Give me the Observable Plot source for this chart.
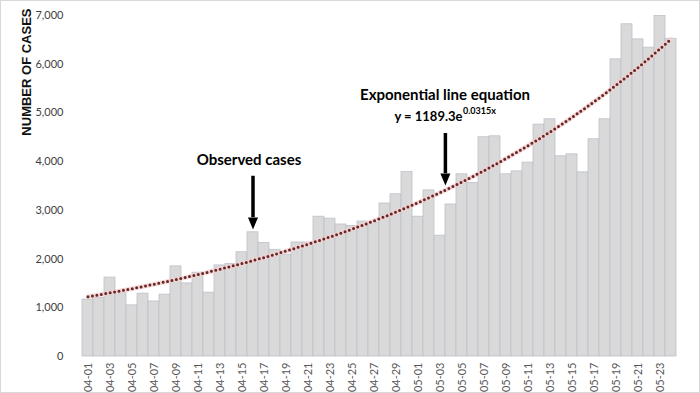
<!DOCTYPE html>
<html><head><meta charset="utf-8">
<script src="https://cdn.jsdelivr.net/npm/d3@7"></script>
<script src="https://cdn.jsdelivr.net/npm/@observablehq/plot@0.6"></script>
<style>
html,body{margin:0;padding:0;background:#fff;overflow:hidden;}
#chart svg{outline:1px solid #d9d9d9;outline-offset:-1px;}
</style></head><body><div id="chart"></div>
<script>
const dates = [
  "04-01","04-02","04-03","04-04","04-05","04-06","04-07","04-08","04-09","04-10",
  "04-11","04-12","04-13","04-14","04-15","04-16","04-17","04-18","04-19","04-20",
  "04-21","04-22","04-23","04-24","04-25","04-26","04-27","04-28","04-29","04-30",
  "05-01","05-02","05-03","05-04","05-05","05-06","05-07","05-08","05-09","05-10",
  "05-11","05-12","05-13","05-14","05-15","05-16","05-17","05-18","05-19","05-20",
  "05-21","05-22","05-23","05-24"
];
const cases = [
  1170,1200,1620,1320,1050,1290,1130,1270,1850,1500,
  1720,1310,1870,1900,2140,2550,2330,2190,2090,2340,
  2340,2870,2830,2710,2680,2770,2740,3140,3330,3790,
  2870,3410,2480,3120,3740,3560,4500,4520,3740,3800,
  3980,4760,4870,4110,4150,3780,4460,4870,6100,6820,
  6510,6340,6990,6520
];
const xTickLabels = dates.filter((d, i) => i % 2 === 0);
const yTicks = [0,1000,2000,3000,4000,5000,6000,7000];
// Trend equation shown on the chart: y = 1189.3 e^(0.0315 x), x = day number
const trendA = 1189.3, trendB = 0.0315;
const yTitle = "NUMBER OF CASES";
const observedLabel = "Observed cases";
const trendTitle = "Exponential line equation";
const trendEqMain = "y = 1189.3e";
const trendEqExp = "0.0315x";

const rows = dates.map((d, i) => ({date: d, cases: cases[i], trend: trendA * Math.exp(trendB * (i + 1))}));

const arrowHead = {
  draw(ctx) { ctx.moveTo(-5, -12); ctx.lineTo(5, -12); ctx.lineTo(0, 0); ctx.closePath(); }
};

const chart = Plot.plot({
  width: 700,
  height: 393,
  marginLeft: 75,
  marginRight: 18,
  marginTop: 15,
  marginBottom: 37,
  style: {fontFamily: "Lato, sans-serif", background: "#fff"},
  x: {type: "band", domain: dates, padding: 0},
  y: {domain: [0, 7000]},
  marks: [
    Plot.barY(rows, {x: "date", y: "cases", fill: "#d9d9d9", stroke: "#bcc1cb", strokeWidth: 0.8}),
    Plot.line(rows, {x: "date", y: "trend", stroke: "#f4d0d0", strokeWidth: 4.5, strokeOpacity: 0.8}),
    Plot.line(rows, {x: "date", y: "trend", stroke: "#652727", strokeWidth: 3, strokeDasharray: "0,4.5", strokeLinecap: "round"}),
    Plot.axisY({ticks: yTicks, tickFormat: d3.format(","), tickSize: 0, tickPadding: 12, fontSize: 11, color: "#404040", label: null}),
    Plot.axisX({ticks: xTickLabels, tickSize: 0, tickPadding: 6, tickRotate: -90, fontSize: 11, color: "#595959", label: null}),
    Plot.text([yTitle], {frameAnchor: "top-left", dx: -54, dy: -7, rotate: -90, textAnchor: "end", fontSize: 13, fontWeight: "bold", fontFamily: "Liberation Sans, Arial, sans-serif", fill: "#111"}),
    // Observed cases annotation
    Plot.ruleX(["04-16"], {x: d => d, y1: 3700, y2: 2850, stroke: "#000", strokeWidth: 3.5}),
    Plot.dot(["04-16"], {x: d => d, y: 2607, symbol: arrowHead, fill: "#000", stroke: null}),
    Plot.text([observedLabel], {x: () => "04-16", y: 4030, dx: -4, fontSize: 15, fontWeight: "bold", fill: "#000"}),
    // Trend annotation
    Plot.ruleX(["05-04"], {x: d => d, y1: 4578, y2: 3750, dx: -5.6, stroke: "#000", strokeWidth: 3.5}),
    Plot.dot(["05-04"], {x: d => d, y: 3511, dx: -5.6, symbol: arrowHead, fill: "#000", stroke: null}),
    Plot.text([trendTitle], {x: () => "05-04", y: 5358, dx: -6, fontSize: 15, fontWeight: "bold", fill: "#000"}),
    Plot.text([trendEqMain], {x: () => "05-04", y: 4927, dx: 11.5, textAnchor: "end", fontSize: 13, fontWeight: "bold", fill: "#000"}),
    Plot.text([trendEqExp], {x: () => "05-04", y: 5030, dx: 12, textAnchor: "start", fontSize: 9, fontWeight: "bold", fill: "#000"})
  ]
});
document.getElementById("chart").appendChild(chart);
</script></body></html>
